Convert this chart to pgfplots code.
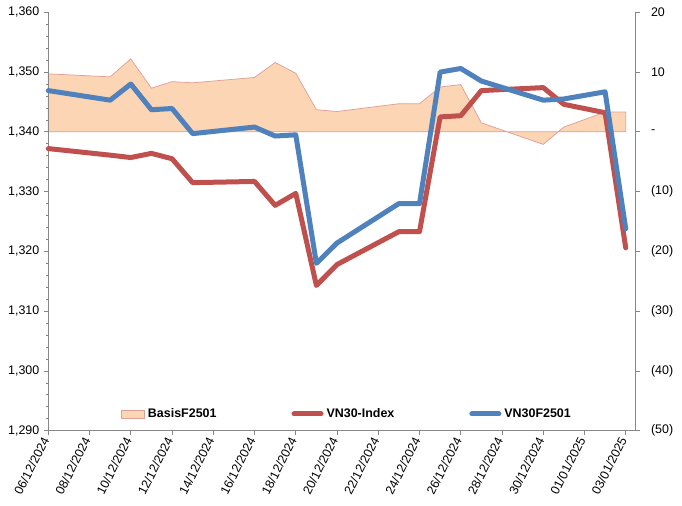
\documentclass[border=0pt]{standalone}
\usepackage{fontspec}
\setmainfont{Liberation Sans}
\usepackage{pgfplots}
\usepackage{pgfplotstable}
\pgfplotsset{compat=1.18}

\definecolor{axisgray}{HTML}{868686}
\definecolor{vnred}{HTML}{C0504D}
\definecolor{vnblue}{HTML}{4F81BD}
\definecolor{basisfill}{HTML}{FCD5B5}
\definecolor{basisline}{HTML}{E0A096}

% day = calendar days after 06/12/2024
\pgfplotstableread{
day  vn30    f2501   basis
0    1337.2  1346.9  9.7
3    1336.1  1345.3  9.2
4    1335.7  1348.0  12.2
5    1336.4  1343.7  7.3
6    1335.5  1343.9  8.4
7    1331.5  1339.7  8.2
10   1331.7  1340.8  9.1
11   1327.7  1339.3  11.6
12   1329.7  1339.5  9.8
13   1314.3  1318.0  3.7
14   1317.8  1321.4  3.4
17   1323.3  1328.0  4.7
18   1323.3  1328.0  4.7
19   1342.5  1350.0  7.5
20   1342.7  1350.6  7.9
21   1346.9  1348.5  1.5
24   1347.4  1345.3  -2.1
25   1344.6  1345.5  0.8
27   1343.2  1346.7  3.3
28   1320.6  1323.8  3.3
}\datatable

\pgfplotsset{
  common/.style={
    scale only axis,
    width=586.7bp, height=418.4bp,
    xmin=0, xmax=28.45,
    tick align=outside,
    major tick length=4.5bp,
    minor tick length=2.5bp,
    axis line style={draw=axisgray, line width=0.75bp, -},
    tick style={draw=axisgray, line width=0.75bp},
    ticklabel style={font=\fontsize{12.5}{15}\selectfont, text=black},
    clip=false,
  },
  lineleg/.style={legend image code/.code={\draw[##1] (0bp,0bp) -- (27bp,0bp);}},
  arealeg/.style={legend image code/.code={\draw[##1] (0bp,-4bp) rectangle (23bp,4bp);}},
}

\begin{document}
\begin{tikzpicture}
\path[use as bounding box] (-48.3bp,-75.3bp) rectangle (633.7bp,430.7bp);

% basis (right axis), drawn first so the lines lie over it
\begin{axis}[common,
  axis y line*=right, axis x line=none,
  ymin=-50, ymax=20,
  ytick={-50,-40,-30,-20,-10,0,10,20},
  yticklabels={(50),(40),(30),(20),(10),-,10,20},
  yticklabel style={anchor=west, xshift=8bp},
]
\addplot[fill=basisfill, draw=basisline, line width=0.75bp]
  table[x=day, y=basis] {\datatable} \closedcycle;
\end{axis}

% VN30-Index and VN30F2501 (left axis)
\begin{axis}[common,
  axis x line*=bottom, axis y line*=left,
  ymin=1290, ymax=1360,
  ytick={1290,1300,1310,1320,1330,1340,1350,1360},
  yticklabels={{1,290},{1,300},{1,310},{1,320},{1,330},{1,340},{1,350},{1,360}},
  yticklabel style={xshift=-1bp},
  minor y tick num=4,
  xtick={0,2,...,28},
  xticklabels={06/12/2024,08/12/2024,10/12/2024,12/12/2024,14/12/2024,16/12/2024,
    18/12/2024,20/12/2024,22/12/2024,24/12/2024,26/12/2024,28/12/2024,30/12/2024,
    01/01/2025,03/01/2025},
  xticklabel style={rotate=63, anchor=east, yshift=1bp},
  legend columns=3,
  legend style={
    at={(axis description cs:0.124,0.040)}, anchor=west,
    draw=none, fill=none, inner sep=0pt,
    font=\fontsize{12.5}{15}\selectfont\bfseries,
    nodes={inner sep=0pt},
    /tikz/every odd column/.append style={column sep=3bp},
    /tikz/every even column/.append style={column sep=75bp},
  },
]
\addlegendimage{fill=basisfill, draw=basisline, line width=0.75bp, arealeg}
\addlegendentry{BasisF2501}
\addplot[vnred, line width=5bp, line join=round, line cap=round, lineleg]
  table[x=day, y=vn30] {\datatable};
\addlegendentry{VN30-Index}
\addplot[vnblue, line width=5bp, line join=round, line cap=round, lineleg]
  table[x=day, y=f2501] {\datatable};
\addlegendentry{VN30F2501}
\end{axis}
\end{tikzpicture}
\end{document}
